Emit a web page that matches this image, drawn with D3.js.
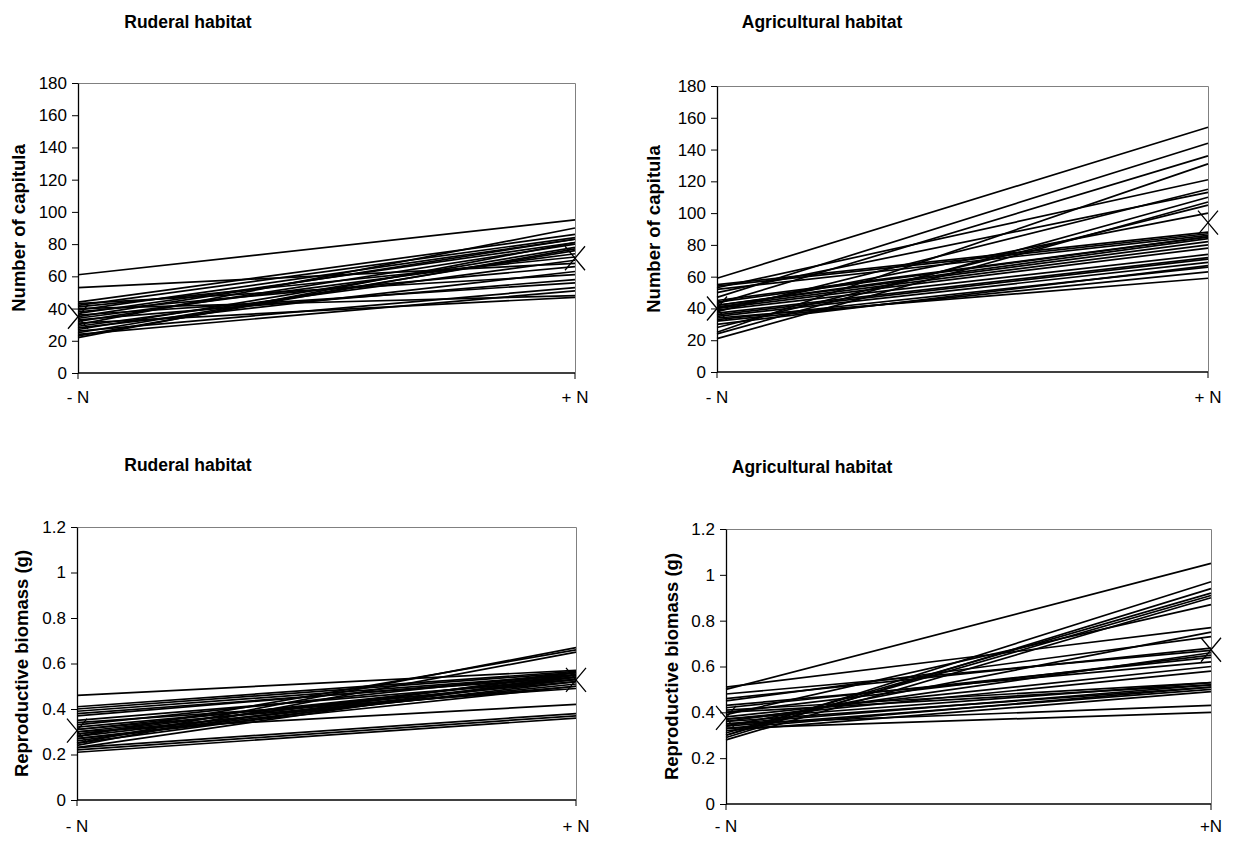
<!DOCTYPE html>
<html>
<head>
<meta charset="utf-8">
<script src="https://cdn.jsdelivr.net/npm/d3@7"></script>
<style>
  html, body { margin: 0; padding: 0; background: #fff; }
  svg { display: block; font-family: Arial, "Liberation Sans", sans-serif; }
</style>
</head>
<body>
<svg id="chart" width="1234" height="843"></svg>
<script>
// Treatment levels on the x axis
const treatments = ["- N", "+ N"];
const treatmentsBR = ["- N", "+N"];

// Number of capitula per genotype, ruderal habitat (without / with N)
const ruderalCapNeg = [61, 53, 44, 43, 42, 41, 40, 39, 38, 37, 36, 35, 34, 33, 32, 31, 30, 29, 28, 27, 26, 25, 24, 23, 22];
const ruderalCapPos = [95, 68, 86, 61, 84, 72, 48, 83, 66, 81, 56, 83, 74, 58, 80, 47, 90, 70, 63, 78, 53, 76, 51, 77, 81];

// Number of capitula per genotype, agricultural habitat
const agriCapNeg = [59, 55, 54, 53, 52, 50, 47, 45, 44, 43, 42, 42, 41, 40, 40, 39, 38, 37, 36, 35, 34, 33, 32, 30, 28, 25, 24, 21];
const agriCapPos = [154, 88, 87, 121, 86, 113, 144, 85, 85, 136, 84, 82, 80, 100, 78, 74, 115, 72, 71, 69, 59, 66, 63, 67, 105, 131, 110, 107];

// Reproductive biomass (g), ruderal habitat
const ruderalBioNeg = [0.46, 0.41, 0.40, 0.39, 0.38, 0.37, 0.35, 0.34, 0.33, 0.32, 0.31, 0.31, 0.30, 0.30, 0.29, 0.29, 0.28, 0.28, 0.27, 0.27, 0.26, 0.25, 0.25, 0.24, 0.23, 0.23, 0.22, 0.21];
const ruderalBioPos = [0.57, 0.565, 0.56, 0.55, 0.54, 0.55, 0.53, 0.49, 0.56, 0.52, 0.50, 0.54, 0.53, 0.42, 0.55, 0.51, 0.66, 0.53, 0.50, 0.52, 0.56, 0.67, 0.54, 0.65, 0.38, 0.55, 0.37, 0.36];

// Reproductive biomass (g), agricultural habitat
const agriBioNeg = [0.51, 0.50, 0.48, 0.46, 0.45, 0.43, 0.42, 0.41, 0.40, 0.40, 0.39, 0.38, 0.37, 0.37, 0.36, 0.36, 0.35, 0.35, 0.34, 0.34, 0.33, 0.33, 0.32, 0.31, 0.30, 0.30, 0.29, 0.28];
const agriBioPos = [0.77, 1.05, 0.67, 0.68, 0.73, 0.62, 0.64, 0.53, 0.65, 0.52, 0.87, 0.60, 0.58, 0.53, 0.66, 0.51, 0.52, 0.43, 0.50, 0.75, 0.51, 0.40, 0.49, 0.92, 0.97, 0.91, 0.94, 0.90];

// Tick values of the two kinds of y axis
const capTicks = [0, 20, 40, 60, 80, 100, 120, 140, 160, 180];
const bioTicks = [0, 0.2, 0.4, 0.6, 0.8, 1, 1.2];

const svg = d3.select("#chart");
const FONT = "Arial, 'Liberation Sans', sans-serif";

const panels = [
  { title: "Ruderal habitat", tx: 188, ty: 28, ylab: "Number of capitula", lx: 25,
    box: { l: 78, r: 575, t: 83, b: 373 }, ymax: 180, ticks: capTicks,
    neg: ruderalCapNeg, pos: ruderalCapPos, cats: treatments, xly: 403 },
  { title: "Agricultural habitat", tx: 822, ty: 28, ylab: "Number of capitula", lx: 660,
    box: { l: 717, r: 1208, t: 86, b: 372 }, ymax: 180, ticks: capTicks,
    neg: agriCapNeg, pos: agriCapPos, cats: treatments, xly: 403 },
  { title: "Ruderal habitat", tx: 188, ty: 471, ylab: "Reproductive biomass (g)", lx: 28,
    box: { l: 77, r: 576, t: 527, b: 800 }, ymax: 1.2, ticks: bioTicks,
    neg: ruderalBioNeg, pos: ruderalBioPos, cats: treatments, xly: 832 },
  { title: "Agricultural habitat", tx: 812, ty: 473, ylab: "Reproductive biomass (g)", lx: 678,
    box: { l: 726, r: 1211, t: 529, b: 804 }, ymax: 1.2, ticks: bioTicks,
    neg: agriBioNeg, pos: agriBioPos, cats: treatmentsBR, xly: 832 }
];

panels.forEach(p => {
  const g = svg.append("g");
  const x = d3.scalePoint().domain(p.cats).range([p.box.l, p.box.r]);
  const y = d3.scaleLinear().domain([0, p.ymax]).range([p.box.b, p.box.t]);

  // plot area frame (top and right edges)
  g.append("path")
    .attr("d", `M${p.box.l},${p.box.t + 0.5}H${p.box.r + 0.5}V${p.box.b}`)
    .attr("fill", "none").attr("stroke", "#808080").attr("stroke-width", 1);

  // one line per genotype
  const rows = p.neg.map((v, i) => [v, p.pos[i]]);
  const line = d3.line().x((d, i) => x(p.cats[i])).y(d => y(d));
  g.append("g").selectAll("path").data(rows).join("path")
    .attr("d", line)
    .attr("fill", "none").attr("stroke", "#000").attr("stroke-width", 1.7);

  // mean markers
  const means = [d3.mean(p.neg), d3.mean(p.pos)];
  const sx = 10, sy = 12;
  g.append("g").selectAll("path").data(means).join("path")
    .attr("d", (d, i) => {
      const cx = x(p.cats[i]), cy = y(d);
      return `M${cx - sx},${cy - sy}L${cx + sx},${cy + sy}M${cx - sx},${cy + sy}L${cx + sx},${cy - sy}`;
    })
    .attr("fill", "none").attr("stroke", "#000").attr("stroke-width", 1.3);

  // y axis
  const ya = g.append("g").attr("transform", `translate(${p.box.l},0)`)
    .call(d3.axisLeft(y).tickValues(p.ticks).tickFormat(d => String(d)).tickSize(6).tickSizeOuter(0).tickPadding(5));
  ya.select(".domain").attr("stroke", "#000").attr("stroke-width", 1.3);
  ya.selectAll("line").attr("stroke", "#000");
  ya.selectAll("text").attr("font-size", 17).attr("fill", "#000").attr("font-family", FONT);

  // x axis
  const xa = g.append("g").attr("transform", `translate(0,${p.box.b})`);
  xa.append("line").attr("x1", p.box.l).attr("x2", p.box.r)
    .attr("stroke", "#000").attr("stroke-width", 1.3);
  xa.selectAll("line.tk").data(p.cats).join("line").attr("class", "tk")
    .attr("x1", d => x(d)).attr("x2", d => x(d)).attr("y1", 0).attr("y2", 6)
    .attr("stroke", "#000");
  g.selectAll("text.xl").data(p.cats).join("text").attr("class", "xl")
    .attr("x", d => x(d)).attr("y", p.xly)
    .attr("text-anchor", "middle").attr("font-size", 17).attr("fill", "#000")
    .text(d => d);

  // panel title
  g.append("text").attr("x", p.tx).attr("y", p.ty)
    .attr("text-anchor", "middle").attr("font-size", 17.5).attr("font-weight", "bold")
    .text(p.title);

  // y axis title
  g.append("text")
    .attr("transform", `translate(${p.lx},${(p.box.t + p.box.b) / 2}) rotate(-90)`)
    .attr("text-anchor", "middle").attr("font-size", 18.5).attr("font-weight", "bold")
    .text(p.ylab);
});
</script>
</body>
</html>
